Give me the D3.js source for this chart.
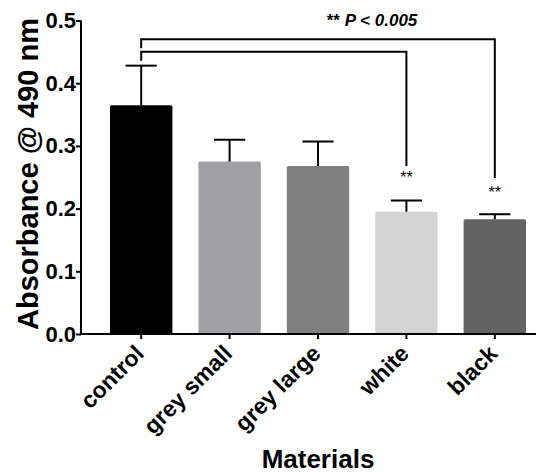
<!DOCTYPE html>
<html>
<head>
<meta charset="utf-8">
<script src="https://cdn.jsdelivr.net/npm/d3@7"></script>
<style>
body{margin:0;background:#fff;}
text{font-family:Arial,"Liberation Sans",sans-serif;}
</style>
</head>
<body>
<script>
var materials = ['control','grey small','grey large','white','black'];
var absorbance = [0.365, 0.275, 0.268, 0.195, 0.183];
var errUpper = [0.063, 0.035, 0.039, 0.018, 0.008];
var barColors = ['#000000','#a1a1a5','#808080','#d4d4d4','#636363'];
var yTicks = [0.0, 0.1, 0.2, 0.3, 0.4, 0.5];
// comparisons vs control: bracket level and where the right leg stops (data units)
var compare = [{to:'white', level:0.450, drop:0.268}, {to:'black', level:0.470, drop:0.249}];

var width = 540, height = 474;
var svg = d3.select('body').append('svg').attr('width',width).attr('height',height);

var x = d3.scaleBand().domain(materials).range([97,539]).paddingInner(0.294).paddingOuter(0.147);
var y = d3.scaleLinear().domain([0,0.5]).range([334,20.5]);
var axisX = 81;

// bars
svg.selectAll('rect.bar').data(materials).enter().append('rect')
 .attr('class','bar')
 .attr('x',function(d){return x(d);})
 .attr('y',function(d,i){return y(absorbance[i]);})
 .attr('width',x.bandwidth())
 .attr('height',function(d,i){return y(0)-y(absorbance[i]);})
 .attr('rx',1.5)
 .attr('fill',function(d,i){return barColors[i];});

// error bars (upper only)
var capW = x.bandwidth()/2;
materials.forEach(function(d,i){
  var cx = x(d)+x.bandwidth()/2;
  svg.append('line').attr('x1',cx).attr('x2',cx)
   .attr('y1',y(absorbance[i])).attr('y2',y(absorbance[i]+errUpper[i]))
   .attr('stroke','#000').attr('stroke-width',2);
  svg.append('line').attr('x1',cx-capW/2).attr('x2',cx+capW/2)
   .attr('y1',y(absorbance[i]+errUpper[i])).attr('y2',y(absorbance[i]+errUpper[i]))
   .attr('stroke','#000').attr('stroke-width',2);
});

// axes
var yAxis = d3.axisLeft(y).tickValues(yTicks).tickFormat(d3.format('.1f')).tickSize(5);
var gy = svg.append('g').attr('transform','translate('+axisX+',0)').call(yAxis);
gy.select('.domain').attr('d','M0,334V20.5').attr('stroke-width',2);
gy.selectAll('.tick line').attr('stroke-width',2);
gy.selectAll('.tick text').attr('font-size',22).attr('font-weight','bold').attr('fill','#000').attr('x',-5);

var xAxis = d3.axisBottom(x).tickSize(5);
var gx = svg.append('g').attr('transform','translate(0,334)').call(xAxis);
gx.select('.domain').attr('d','M'+(axisX-1)+',0H536').attr('stroke-width',2);
gx.selectAll('.tick line').attr('stroke-width',2);
gx.selectAll('.tick text').attr('font-size',23).attr('font-weight','bold').attr('fill','#000')
 .attr('text-anchor','end').attr('y',0).attr('dy','0')
 .attr('transform','translate(4,21) rotate(-45)');

// axis titles
svg.append('text').attr('transform','translate(37.5,174) rotate(-90)')
 .attr('text-anchor','middle').attr('font-size',29).attr('font-weight','bold').text('Absorbance @ 490 nm');
svg.append('text').attr('x',318).attr('y',468)
 .attr('text-anchor','middle').attr('font-size',26).attr('font-weight','bold').text('Materials');

// significance brackets
var x0 = x('control')+x.bandwidth()/2;
compare.forEach(function(c,k){
  var x1 = x(c.to)+x.bandwidth()/2;
  var top = y(c.level);
  svg.append('path')
   .attr('d','M'+x0+','+(top+9)+'V'+top+'H'+x1+'V'+y(c.drop))
   .attr('fill','none').attr('stroke','#000').attr('stroke-width',2);
  svg.append('text').attr('x',x1).attr('y',y(c.drop)+(k?20:17))
   .attr('text-anchor','middle').attr('font-size',16).text('**');
});

var p = svg.append('text').attr('x',372).attr('y',26).attr('text-anchor','middle')
 .attr('font-size',17).attr('font-weight','bold');
p.append('tspan').text('** ');
p.append('tspan').attr('font-style','italic').text('P < 0.005');
</script>
</body>
</html>
